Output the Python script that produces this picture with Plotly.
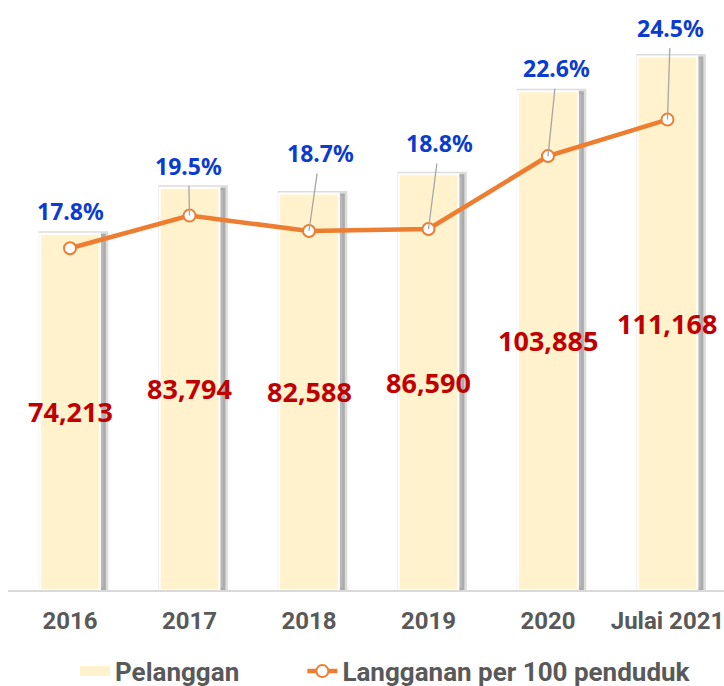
import plotly.graph_objects as go

categories = ["2016", "2017", "2018", "2019", "2020", "Julai 2021"]
pelanggan = [74213, 83794, 82588, 86590, 103885, 111168]
langganan = [17.8, 19.5, 18.7, 18.8, 22.6, 24.5]

# label offsets in px (style, not data)
pct_dx = [0, -1, 11, 11, 9, 3]
pct_dy = [-37, -50, -78, -86, -88, -92]
pct_arrow = [False, True, True, True, True, True]

BAR = "#FFF2CC"
ORANGE = "#ED7D31"
BLUE = "#0B3BCF"
RED = "#C00000"
GRAY = "#595959"
TICKFONT = "Roboto, Arial, sans-serif"
LABFONT = "Noto Sans, Arial, sans-serif"
NBSP = "\u00a0"

xs = list(range(len(categories)))

fig = go.Figure()

# shadow behind bars
fig.add_trace(go.Bar(
    x=xs, y=pelanggan, width=0.54, offset=-0.24,
    marker=dict(color="rgba(100,100,100,0.45)", line=dict(color="rgba(140,140,140,0.3)", width=5)),
    showlegend=False, hoverinfo="skip", yaxis="y"))

fig.add_trace(go.Bar(
    x=xs, y=pelanggan, width=0.5, name="Pelanggan", showlegend=False,
    marker=dict(color=BAR, line=dict(color="white", width=2)),
    yaxis="y"))

# legend-only entry for bars (wide swatch)
fig.add_trace(go.Scatter(
    x=[None], y=[None], mode="lines", name="Pelanggan" + NBSP * 9,
    line=dict(color=BAR, width=12), hoverinfo="skip"))

fig.add_trace(go.Scatter(
    x=xs, y=langganan, name="Langganan per 100 penduduk", mode="lines+markers",
    line=dict(color=ORANGE, width=4.5),
    marker=dict(symbol="circle", size=12, color="white", line=dict(color=ORANGE, width=2)),
    yaxis="y2"))

annotations = []
for i, (v, p) in enumerate(zip(pelanggan, langganan)):
    annotations.append(dict(
        x=xs[i], y=v / 2, xref="x", yref="y", text=f"{v:,}", showarrow=False,
        font=dict(family=LABFONT, size=27, color=RED, weight="bold")))
    if pct_arrow[i]:
        annotations.append(dict(
            x=xs[i], y=p, xref="x", yref="y2", text=f"{p:.1f}%",
            showarrow=True, ax=pct_dx[i], ay=pct_dy[i],
            arrowhead=0, arrowwidth=1.3, arrowcolor="#A6A6A6", standoff=0,
            borderpad=4,
            font=dict(family=LABFONT, size=23, color=BLUE, weight="bold")))
    else:
        annotations.append(dict(
            x=xs[i], y=p, xref="x", yref="y2", text=f"{p:.1f}%",
            showarrow=False, xshift=pct_dx[i], yshift=-pct_dy[i],
            font=dict(family=LABFONT, size=23, color=BLUE, weight="bold")))

fig.update_layout(
    width=724, height=686,
    margin=dict(l=8, r=0, t=14, b=96, autoexpand=False),
    paper_bgcolor="white", plot_bgcolor="white",
    barmode="overlay",
    showlegend=True,
    legend=dict(orientation="h", x=0.0936, xanchor="left", y=-0.141, yanchor="middle",
                font=dict(family=TICKFONT, size=26, color=GRAY, weight="bold"),
                traceorder="normal"),
    xaxis=dict(range=[-0.519, 5.473], tickmode="array", tickvals=xs, ticktext=categories,
               showgrid=False, zeroline=False, showline=True, linecolor="#D9D9D9", linewidth=1.5,
               ticks="outside", ticklen=8, tickcolor="rgba(0,0,0,0)",
               ticklabeloverflow="allow",
               tickfont=dict(family=TICKFONT, size=24, color=GRAY, weight="bold")),
    yaxis=dict(range=[0, 120000], visible=False, showgrid=False),
    yaxis2=dict(range=[0, 30], overlaying="y", visible=False, showgrid=False),
    annotations=annotations,
)

fig.write_html("out.html", config={"displayModeBar": False},
               post_script="document.body.style.margin='0';document.body.style.overflow='hidden';")
